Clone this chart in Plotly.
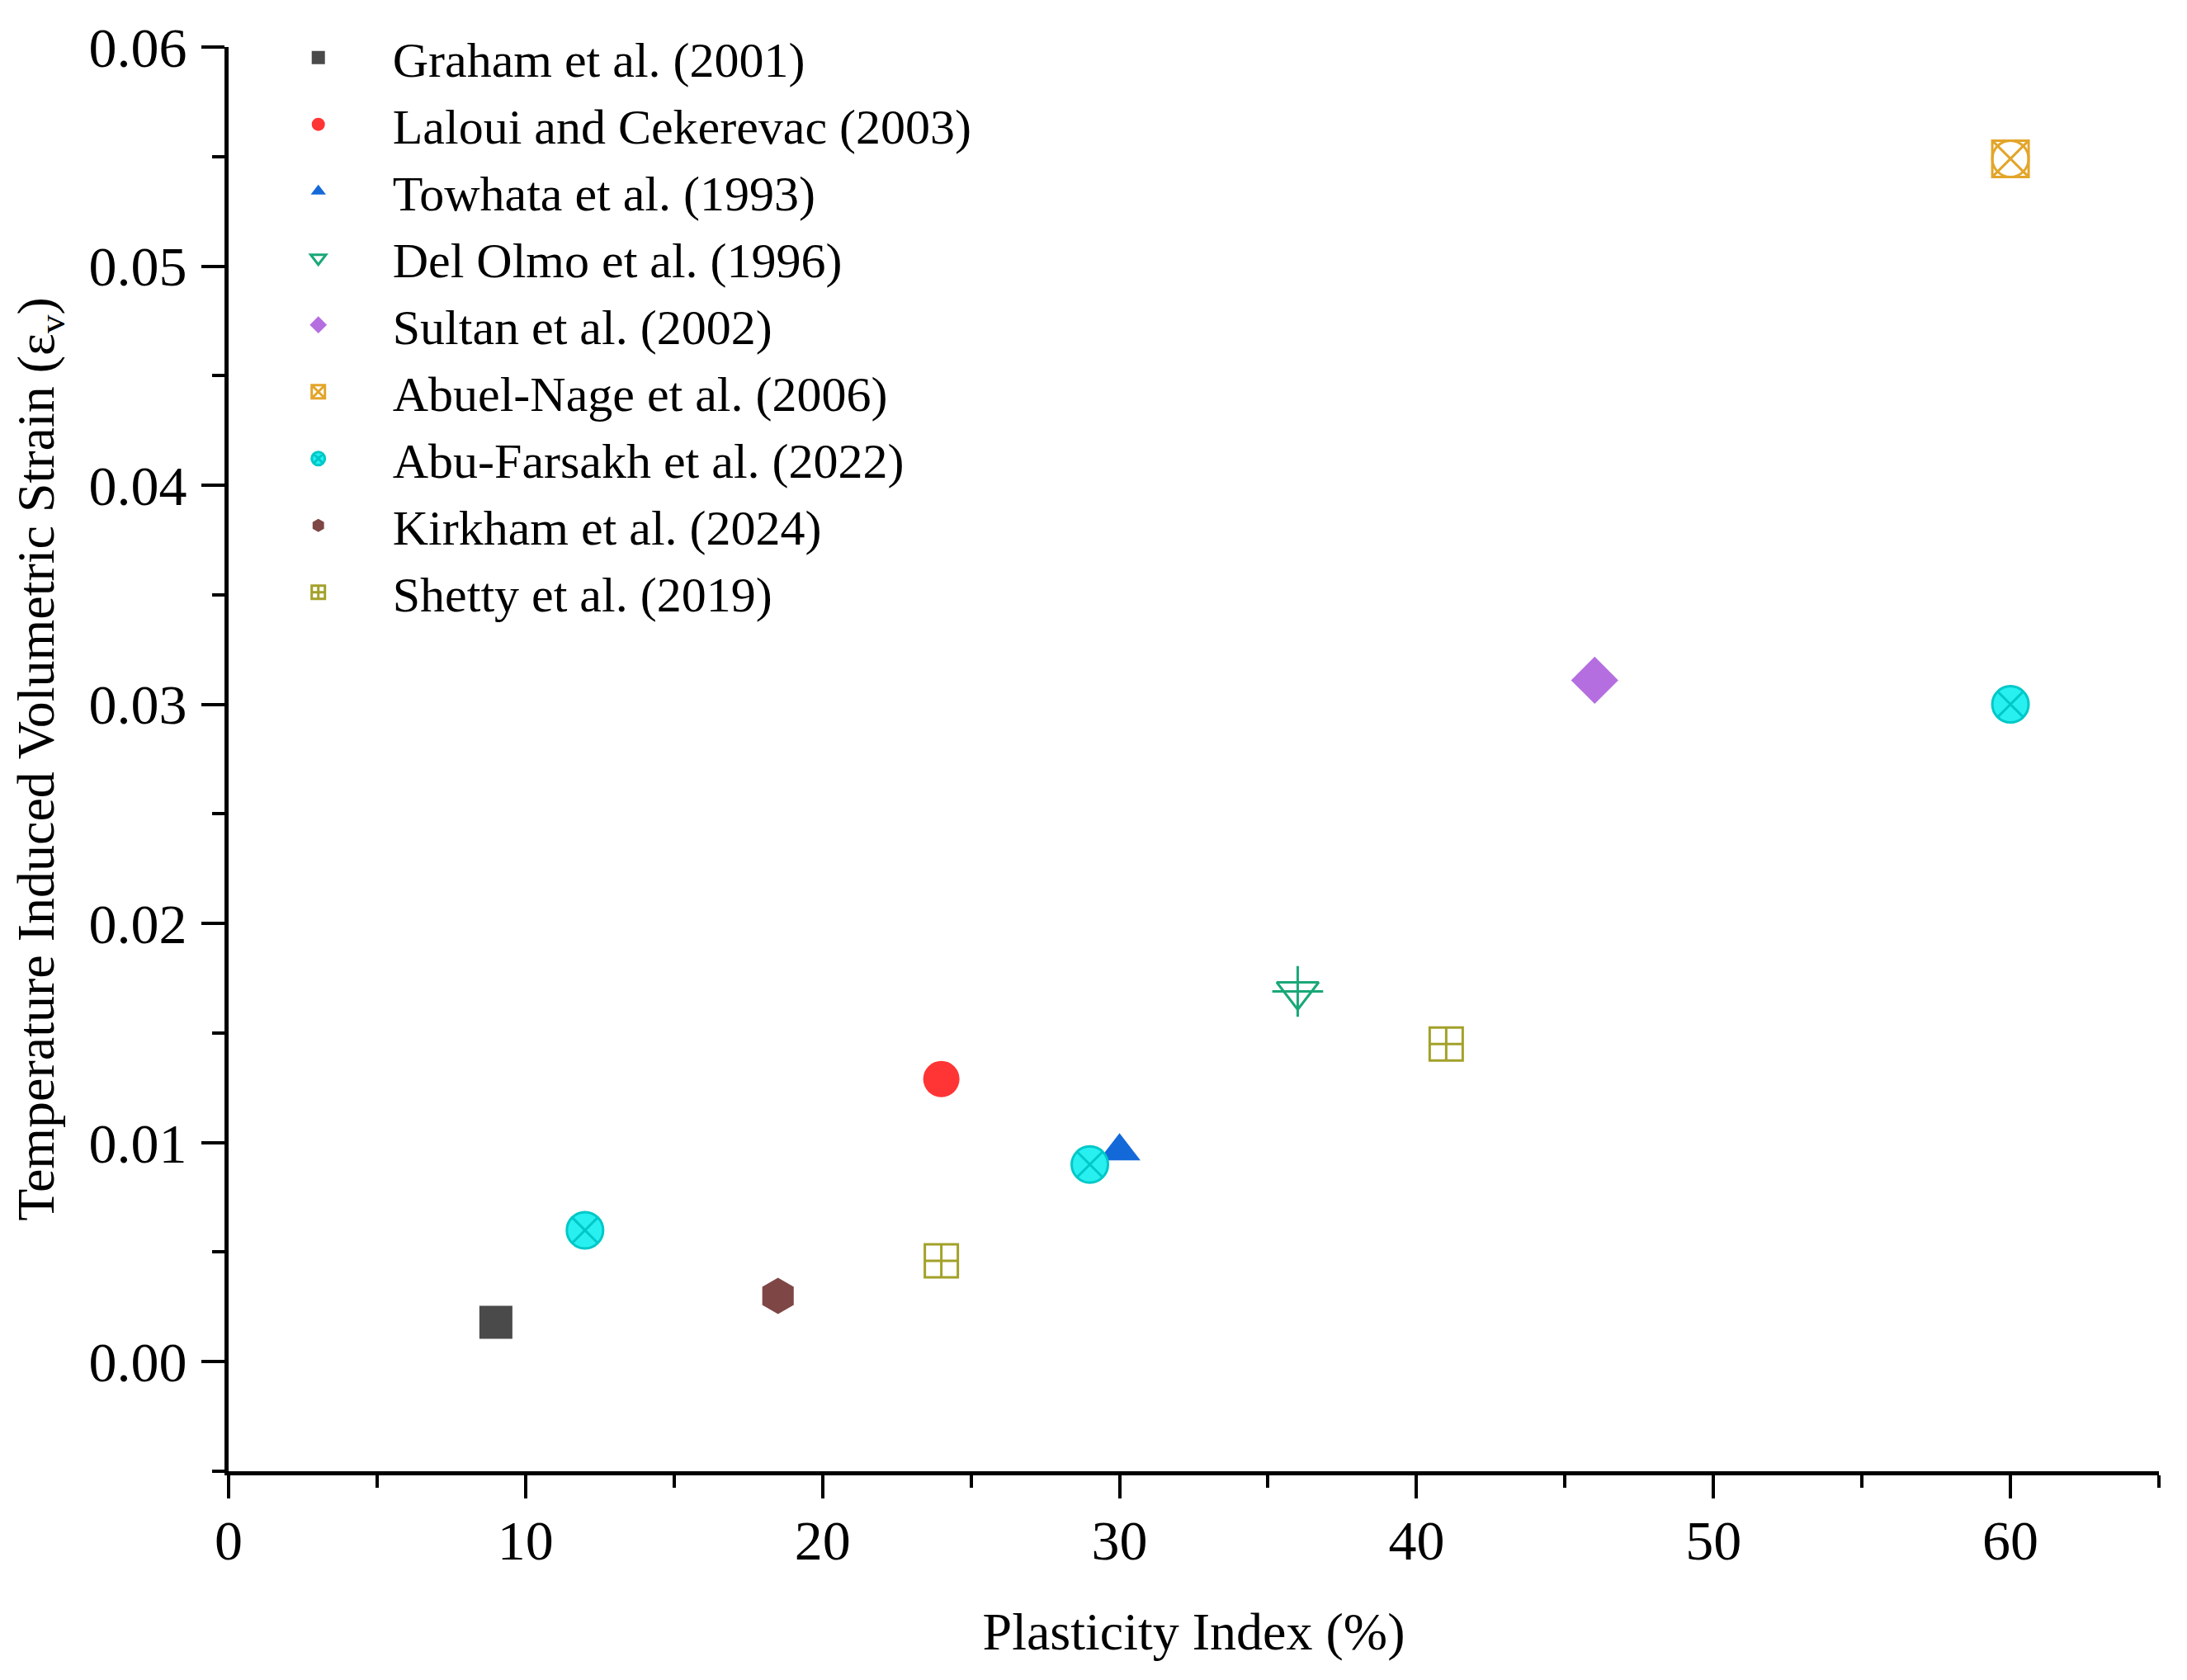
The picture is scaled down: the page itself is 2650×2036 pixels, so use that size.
import plotly.graph_objects as go

# ---- data ----
graham_x = [9]
graham_y = [0.0018]
laloui_x = [24]
laloui_y = [0.0129]
towhata_x = [30]
towhata_y = [0.0096]
delolmo_x = [36]
delolmo_y = [0.0169]
sultan_x = [46]
sultan_y = [0.0311]
abuelnage_x = [60]
abuelnage_y = [0.0549]
abufarsakh_x = [12, 29, 60]
abufarsakh_y = [0.0060, 0.0090, 0.0300]
kirkham_x = [18.5]
kirkham_y = [0.0030]
shetty_x = [24, 41]
shetty_y = [0.0046, 0.0145]

FONT = "Liberation Serif"
MS = 44

fig = go.Figure()

def add(name, x, y, symbol, color, line_color=None, line_width=3, group=None, showlegend=True, size=MS):
    fig.add_trace(go.Scatter(
        x=x, y=y, mode="markers", name=name,
        legendgroup=group or name, showlegend=showlegend,
        marker=dict(symbol=symbol, size=size, color=color,
                    line=dict(color=line_color or color, width=line_width)),
    ))

add("Graham et al. (2001)", graham_x, graham_y, "square", "#4a4a4a", line_width=0, size=40)
add("Laloui and Cekerevac (2003)", laloui_x, laloui_y, "circle", "#ff3535", line_width=0)
add("Towhata et al. (1993)", towhata_x, towhata_y, "triangle-up", "#1469d8", line_width=0)
add("Del Olmo et al. (1996)", delolmo_x, delolmo_y, "triangle-down-open", "#1aa878", line_width=3)
add("Del Olmo et al. (1996)", delolmo_x, delolmo_y, "cross-thin-open", "#1aa878", line_width=3,
    group="Del Olmo et al. (1996)", showlegend=False)
add("Sultan et al. (2002)", sultan_x, sultan_y, "diamond", "#b56ee0", line_width=0)
add("Abuel-Nage et al. (2006)", abuelnage_x, abuelnage_y, "square-x-open", "#e3a52a", line_width=3)
add("Abuel-Nage et al. (2006)", abuelnage_x, abuelnage_y, "circle-open", "#e3a52a", line_width=3,
    group="Abuel-Nage et al. (2006)", showlegend=False)
add("Abu-Farsakh et al. (2022)", abufarsakh_x, abufarsakh_y, "circle-x", "#28f0f0", line_color="#00c8c8", line_width=3)
add("Kirkham et al. (2024)", kirkham_x, kirkham_y, "hexagon", "#7f4646", line_width=0)
add("Shetty et al. (2019)", shetty_x, shetty_y, "square-cross-open", "#a3a12a", line_width=3, size=40)

axis_common = dict(
    showline=True, linecolor="black", linewidth=5,
    ticks="outside", tickcolor="black", tickwidth=4, ticklen=28,
    showgrid=False, zeroline=False, mirror=False,
    tickfont=dict(family=FONT, size=68, color="black"),
)

fig.update_layout(
    width=2650, height=2036,
    paper_bgcolor="white", plot_bgcolor="white",
    margin=dict(l=269, r=42, t=42, b=261),
    font=dict(family=FONT, color="black"),
    xaxis=dict(
        range=[0, 65], dtick=10, tick0=0, ticklabelstandoff=-8,
        minor=dict(dtick=5, ticks="outside", ticklen=15, tickwidth=4, tickcolor="black"),
        title=dict(text="Plasticity Index (%)", font=dict(family=FONT, size=64), standoff=52),
        **axis_common,
    ),
    yaxis=dict(
        range=[-0.005, 0.06], dtick=0.01, tick0=0, tickformat=".2f",
        ticklabelstandoff=4,
        minor=dict(dtick=0.005, ticks="outside", ticklen=15, tickwidth=4, tickcolor="black"),
        title=dict(text="Temperature Induced Volumetric Strain (ε<sub>v</sub>)",
                   font=dict(family=FONT, size=64), standoff=26),
        **axis_common,
    ),
    legend=dict(
        x=0.008, y=1.019, xanchor="left", yanchor="top",
        bgcolor="rgba(0,0,0,0)", borderwidth=0,
        font=dict(family=FONT, size=60, color="black"),
        itemsizing="trace", itemwidth=170, tracegroupgap=0,
    ),
    showlegend=True,
)

fig.write_html("out.html")
